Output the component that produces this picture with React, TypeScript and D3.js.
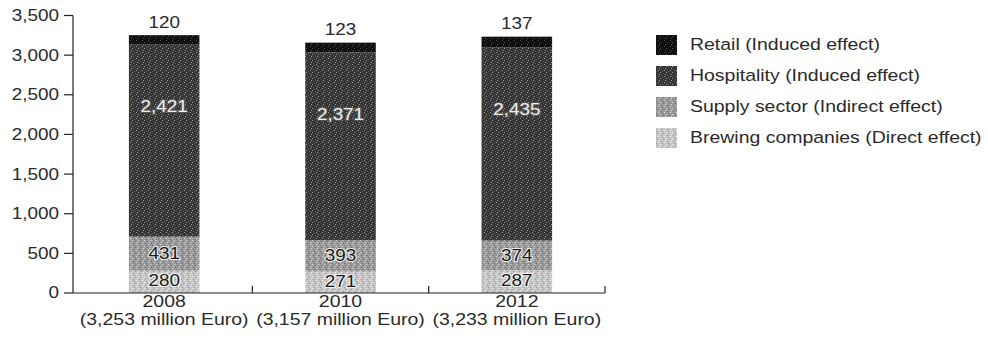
import React from "react";
import * as d3 from "d3";

const years = ["2008", "2010", "2012"];
const totals = ["(3,253 million Euro)", "(3,157 million Euro)", "(3,233 million Euro)"];
const brewing = [280, 271, 287];
const supply = [431, 393, 374];
const hospitality = [2421, 2371, 2435];
const retail = [120, 123, 137];
const yTicks = [0, 500, 1000, 1500, 2000, 2500, 3000, 3500];
const seriesNames = [
  "Retail (Induced effect)",
  "Hospitality (Induced effect)",
  "Supply sector (Indirect effect)",
  "Brewing companies (Direct effect)",
];

const W = 988;
const H = 344;
const FONT = "'Liberation Sans', Arial, Helvetica, sans-serif";
const SX = 1.18;
const INK = "#2a2a2a";

type STextProps = {
  x: number;
  y: number;
  size: number;
  anchor?: "start" | "middle" | "end";
  fill?: string;
  halo?: string;
  children: React.ReactNode;
};

// Text drawn with a slight horizontal stretch, like the wide sans used on the chart
function SText({ x, y, size, anchor = "start", fill = INK, halo, children }: STextProps) {
  return (
    <g transform={`translate(${x},${y}) scale(${SX},1)`}>
      <text
        x={0}
        y={0}
        fontFamily={FONT}
        fontSize={size}
        textAnchor={anchor}
        dominantBaseline="central"
        fill={fill}
        stroke={halo}
        strokeWidth={halo ? 2.2 : 0}
        paintOrder="stroke"
        strokeLinejoin="round"
      >
        {children}
      </text>
    </g>
  );
}

// Speckled fills that imitate the print dithering of each segment
function Speckle({ id, base, dot, dot2 }: { id: string; base: string; dot: string; dot2: string }) {
  return (
    <pattern id={id} width={6} height={6} patternUnits="userSpaceOnUse">
      <rect width={6} height={6} fill={base} />
      <rect x={0} y={0} width={1} height={1} fill={dot} />
      <rect x={3} y={1} width={1} height={1} fill={dot2} />
      <rect x={1} y={3} width={1} height={1} fill={dot2} />
      <rect x={4} y={4} width={1} height={1} fill={dot} />
      <rect x={5} y={2} width={1} height={1} fill={dot} />
      <rect x={2} y={5} width={1} height={1} fill={dot2} />
    </pattern>
  );
}

export default function App() {
  const x0 = 73;
  const yTop = 15.5;
  const yBase = 293;

  const y = d3.scaleLinear().domain([0, 3500]).range([yBase, yTop]);
  const x = d3.scaleBand<string>().domain(years).range([76, 605]).padding(0);
  const barW = x.bandwidth() * 0.4;

  const rows = years.map((yr, i) => ({
    year: yr,
    brewing: brewing[i],
    supply: supply[i],
    hospitality: hospitality[i],
    retail: retail[i],
  }));
  const keys = ["brewing", "supply", "hospitality", "retail"] as const;
  const stacked = d3.stack<any>().keys(keys as unknown as string[])(rows);

  const fills: Record<string, string> = {
    brewing: "url(#pBrew)",
    supply: "url(#pSupply)",
    hospitality: "url(#pHosp)",
    retail: "url(#pRetail)",
  };
  const legendFills = ["url(#pRetail)", "url(#pHosp)", "url(#pSupply)", "url(#pBrew)"];

  const bandEdges = years.map((yr) => (x(yr) as number) + x.bandwidth());

  return (
    <svg width={W} height={H} style={{ position: "absolute", left: 0, top: 0 }}>
      <defs>
        <Speckle id="pRetail" base="#0d0d0d" dot="#555" dot2="#222" />
        <Speckle id="pHosp" base="#353535" dot="#9a9a9a" dot2="#5a5a5a" />
        <Speckle id="pSupply" base="#9a9a9a" dot="#d8d8d8" dot2="#6e6e6e" />
        <Speckle id="pBrew" base="#c6c6c6" dot="#f0f0f0" dot2="#999" />
      </defs>
      <rect width={W} height={H} fill="#fff" />

      {/* stacked bars */}
      {stacked.map((s) =>
        s.map((d, i) => {
          const cx = (x(years[i]) as number) + x.bandwidth() / 2;
          return (
            <rect
              key={`${s.key}-${i}`}
              x={cx - barW / 2}
              y={y(d[1])}
              width={barW}
              height={y(d[0]) - y(d[1])}
              fill={fills[s.key]}
            />
          );
        })
      )}

      {/* y axis */}
      <line x1={x0} x2={x0} y1={yTop} y2={yBase} stroke="#222" strokeWidth={1.2} />
      {yTicks.map((t) => (
        <g key={t}>
          <line x1={x0 - 9} x2={x0} y1={y(t)} y2={y(t)} stroke="#222" strokeWidth={1.2} />
          <SText x={x0 - 14} y={y(t)} size={16} anchor="end">
            {d3.format(",")(t)}
          </SText>
        </g>
      ))}

      {/* x axis */}
      <line x1={x0} x2={605} y1={yBase} y2={yBase} stroke="#222" strokeWidth={1.2} />
      {bandEdges.map((bx) => (
        <line key={bx} x1={bx} x2={bx} y1={yBase - 7} y2={yBase} stroke="#222" strokeWidth={1.2} />
      ))}
      {years.map((yr, i) => {
        const cx = (x(yr) as number) + x.bandwidth() / 2;
        return (
          <g key={yr}>
            <SText x={cx} y={302} size={16.5} anchor="middle">
              {yr}
            </SText>
            <SText x={cx} y={320} size={16.5} anchor="middle">
              {totals[i]}
            </SText>
          </g>
        );
      })}

      {/* value labels */}
      {rows.map((r) => {
        const cx = (x(r.year) as number) + x.bandwidth() / 2;
        const total = r.brewing + r.supply + r.hospitality + r.retail;
        const hospTop = r.brewing + r.supply + r.hospitality;
        return (
          <g key={r.year}>
            <SText x={cx} y={y(total) - 13} size={16} anchor="middle">
              {r.retail}
            </SText>
            <SText x={cx} y={y(hospTop) + 62} size={16} anchor="middle" fill="#eeeeee" halo="#555">
              {d3.format(",")(r.hospitality)}
            </SText>
            <SText x={cx} y={y(r.brewing + r.supply / 2)} size={16} anchor="middle" fill="#1a1a1a" halo="#e8e8e8">
              {r.supply}
            </SText>
            <SText x={cx} y={y(r.brewing / 2) - 1} size={16} anchor="middle" fill="#1a1a1a" halo="#f0f0f0">
              {r.brewing}
            </SText>
          </g>
        );
      })}

      {/* legend */}
      {seriesNames.map((name, i) => {
        const cy = 45 + i * 31;
        return (
          <g key={name}>
            <rect x={656} y={cy - 10} width={21} height={20} fill={legendFills[i]} />
            <SText x={690} y={cy} size={16.5} anchor="start">
              {name}
            </SText>
          </g>
        );
      })}
    </svg>
  );
}
